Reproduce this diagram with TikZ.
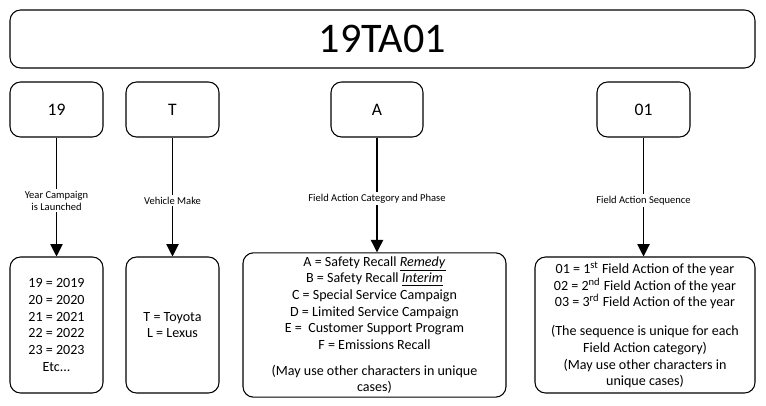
\documentclass[tikz,border=0pt]{standalone}
\usepackage{fontspec}
\setmainfont{Carlito}
\usetikzlibrary{arrows.meta}
\begin{document}
\begin{tikzpicture}[x=0.02cm,y=-0.02cm,
    box/.style={draw,rounded corners=6pt,semithick,align=center,inner sep=2pt},
    lbl/.style={fill=white,font=\fontsize{6}{7}\selectfont,align=center,inner sep=1pt},
    every node/.style={font=\fontsize{8}{9.5}\selectfont}]
        % Bounding box
        \useasboundingbox (0,0) rectangle (766,405);

        % Code
        \node[box,minimum width=745*0.02cm,minimum height=58*0.02cm,font=\fontsize{24}{28}\selectfont] (code) at (382.5,39) {19TA01};

        % Parts of the code
        \node[box,minimum width=93*0.02cm,minimum height=55*0.02cm,font=\fontsize{10}{12}\selectfont] (year) at (56.5,109.5) {19};
        \node[box,minimum width=93*0.02cm,minimum height=55*0.02cm,font=\fontsize{10}{12}\selectfont] (make) at (172.5,109.5) {T};
        \node[box,minimum width=92*0.02cm,minimum height=55*0.02cm,font=\fontsize{10}{12}\selectfont] (cat) at (377,109.5) {A};
        \node[box,minimum width=93*0.02cm,minimum height=55*0.02cm,font=\fontsize{10}{12}\selectfont] (seq) at (643.5,109.5) {01};

        % Meanings
        \node[box,minimum width=93*0.02cm,minimum height=136*0.02cm] (yearv) at (56.5,325) {19 = 2019\\20 = 2020\\21 = 2021\\22 = 2022\\23 = 2023\\Etc...};
        \node[box,minimum width=93*0.02cm,minimum height=136*0.02cm] (makev) at (172.5,325) {T = Toyota\\L = Lexus};
        \node[box,minimum width=263*0.02cm,minimum height=136*0.02cm] (catv) at (374.5,325) {A = Safety Recall \underline{\textit{Remedy}}\\B = Safety Recall \underline{\textit{Interim}}\\C = Special Service Campaign\\D = Limited Service Campaign\\E =\ \ Customer Support Program\\F = Emissions Recall\\[5pt](May use other characters in unique\\cases)};
        \node[box,minimum width=220*0.02cm,minimum height=136*0.02cm] (seqv) at (645,325) {01 = 1\textsuperscript{st} Field Action of the year\\02 = 2\textsuperscript{nd} Field Action of the year\\03 = 3\textsuperscript{rd} Field Action of the year\\[7pt](The sequence is unique for each\\Field Action category)\\(May use other characters in\\unique cases)};

        % Arrows
        \draw[semithick,-{Triangle[length=7pt,width=7pt]}] (year) -- (yearv) node[lbl,pos=0.53] {Year Campaign\\is Launched};
        \draw[semithick,-{Triangle[length=7pt,width=7pt]}] (make) -- (makev) node[lbl,pos=0.53] {Vehicle Make};
        \draw[semithick,-{Triangle[length=7pt,width=7pt]}] (cat) -- (cat|-catv.north) node[lbl,pos=0.53] {Field Action Category and Phase};
        \draw[semithick,-{Triangle[length=7pt,width=7pt]}] (seq) -- (seq|-seqv.north) node[lbl,pos=0.53] {Field Action Sequence};
\end{tikzpicture}
\end{document}
